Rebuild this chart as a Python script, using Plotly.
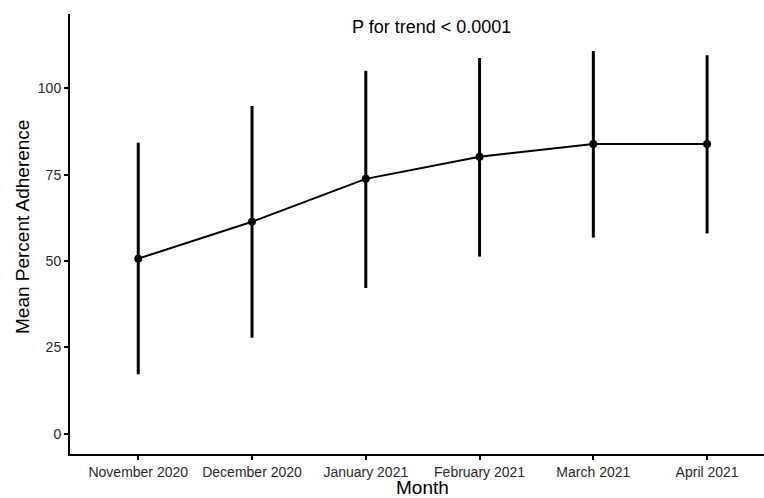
import plotly.graph_objects as go

months = ["November 2020", "December 2020", "January 2021", "February 2021", "March 2021", "April 2021"]
mean_adherence = [50.7, 61.4, 73.8, 80.2, 83.9, 83.9]
upper = [84.3, 94.9, 105.1, 108.8, 110.8, 109.6]
lower = [17.2, 27.8, 42.2, 51.3, 56.8, 58.0]
y_ticks = [0, 25, 50, 75, 100]

err_plus = [u - m for u, m in zip(upper, mean_adherence)]
err_minus = [m - l for m, l in zip(mean_adherence, lower)]
xi = list(range(len(months)))

font = "Liberation Sans, Arial, sans-serif"

W, H = 764, 498
ML, MR, MT, MB = 70, 0, 14, 44
PW, PH = W - ML - MR, H - MT - MB

fig = go.Figure()
fig.add_trace(go.Scatter(
    x=xi, y=mean_adherence, mode="lines+markers",
    line=dict(color="black", width=2),
    marker=dict(color="black", size=8),
    error_y=dict(type="data", symmetric=False, array=err_plus, arrayminus=err_minus,
                 color="black", thickness=3, width=0),
    showlegend=False,
    cliponaxis=False,
))

fig.update_layout(
    width=W, height=H,
    margin=dict(l=ML, r=MR, t=MT, b=MB, autoexpand=False),
    paper_bgcolor="white", plot_bgcolor="white",
    font=dict(family=font, color="#333333"),
    xaxis=dict(
        range=[-0.6, 5.5], tickmode="array", tickvals=xi, ticktext=months,
        showgrid=False, zeroline=False, showline=True, linecolor="black", linewidth=2,
        ticks="outside", ticklen=4, tickwidth=1.5, tickcolor="black",
        tickfont=dict(size=14, color="#2a2a2a", family=font),
        automargin=False,
    ),
    yaxis=dict(
        range=[-5.88, 121.55], tickmode="array", tickvals=y_ticks,
        showgrid=False, zeroline=False, showline=True, linecolor="black", linewidth=2,
        ticks="outside", ticklen=4, tickwidth=1.5, tickcolor="black",
        tickfont=dict(size=14, color="#2a2a2a", family=font),
        automargin=False,
    ),
    annotations=[
        dict(text="P for trend < 0.0001", x=2.58, y=117.9, xref="x", yref="y",
             showarrow=False, font=dict(size=18, color="black", family=font)),
        dict(text="Month", x=2.5, y=(H - MB - 487) / PH, xref="x", yref="paper",
             yanchor="middle", showarrow=False,
             font=dict(size=19, color="black", family=font)),
        dict(text="Mean Percent Adherence", x=(22 - ML) / PW, y=(H - MB - 227) / PH,
             xref="paper", yref="paper", xanchor="center", yanchor="middle",
             textangle=-90, showarrow=False,
             font=dict(size=19, color="black", family=font)),
    ],
)

fig.write_html("out.html", config={"displayModeBar": False},
               post_script="document.body.style.margin='0';document.body.style.overflow='hidden';")
